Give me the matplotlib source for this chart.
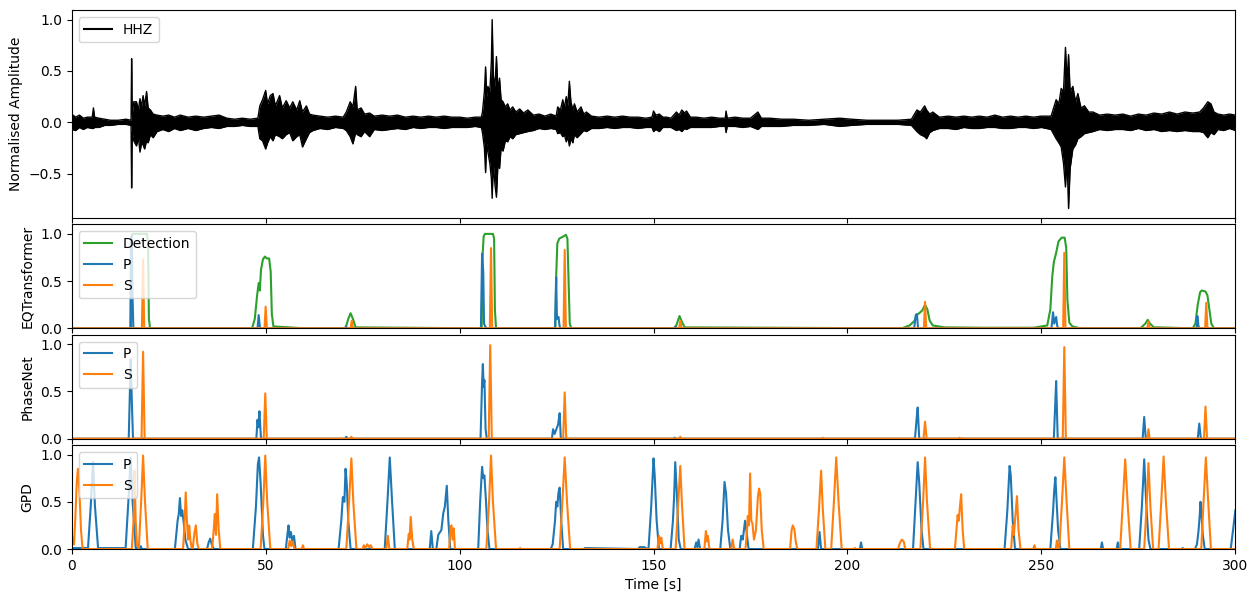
import numpy as np
import matplotlib
matplotlib.use("Agg")
import matplotlib.pyplot as plt

# HHZ trace: (time [s], upper, lower)
hhz = [
    (0.0, 0.08, -0.07), (1.0, 0.05, -0.08), (2.0, 0.07, -0.05), (3.0, 0.04, -0.07),
    (4.0, 0.05, -0.05), (5.3, 0.05, -0.06), (5.6, 0.14, -0.06), (5.9, 0.05, -0.05),
    (7.0, 0.04, -0.05), (8.5, 0.03, -0.03), (10.0, 0.02, -0.03), (12.0, 0.02, -0.02),
    (14.0, 0.03, -0.02), (15.3, 0.02, -0.03), (15.45, 0.62, -0.64), (15.6, 0.08, -0.10),
    (16.0, 0.20, -0.18), (16.7, 0.20, -0.23), (17.2, 0.12, -0.15), (17.6, 0.23, -0.29),
    (18.0, 0.15, -0.20), (18.4, 0.26, -0.22), (18.8, 0.16, -0.26), (19.3, 0.30, -0.18),
    (19.7, 0.14, -0.20), (20.3, 0.12, -0.12), (21.0, 0.08, -0.15), (22.0, 0.07, -0.09),
    (23.5, 0.06, -0.07), (25.0, 0.07, -0.09), (26.5, 0.05, -0.06), (28.0, 0.07, -0.08),
    (30.0, 0.05, -0.06), (32.0, 0.06, -0.08), (34.0, 0.05, -0.06), (36.0, 0.06, -0.05),
    (38.0, 0.07, -0.06), (40.0, 0.04, -0.04), (42.0, 0.03, -0.04), (44.0, 0.04, -0.03),
    (46.0, 0.03, -0.04), (48.0, 0.04, -0.04), (48.5, 0.16, -0.16), (49.2, 0.22, -0.18),
    (50.0, 0.31, -0.26), (50.5, 0.18, -0.20), (51.2, 0.26, -0.14), (51.9, 0.28, -0.18),
    (52.5, 0.16, -0.12), (53.6, 0.26, -0.14), (54.3, 0.14, -0.16), (55.3, 0.21, -0.12),
    (56.2, 0.14, -0.10), (57.0, 0.20, -0.18), (58.0, 0.12, -0.14), (58.8, 0.21, -0.12),
    (59.5, 0.10, -0.24), (60.5, 0.16, -0.16), (61.3, 0.08, -0.10), (62.2, 0.07, -0.08),
    (64.0, 0.06, -0.06), (66.0, 0.05, -0.07), (68.0, 0.06, -0.05), (70.0, 0.05, -0.06),
    (70.8, 0.10, -0.08), (71.8, 0.20, -0.14), (72.5, 0.15, -0.21), (73.2, 0.35, -0.10),
    (73.6, 0.12, -0.12), (74.6, 0.14, -0.14), (75.5, 0.08, -0.09), (76.8, 0.09, -0.14),
    (78.0, 0.06, -0.07), (80.0, 0.07, -0.08), (82.0, 0.06, -0.07), (84.0, 0.07, -0.06),
    (86.0, 0.05, -0.07), (88.0, 0.06, -0.05), (90.0, 0.05, -0.06), (92.0, 0.06, -0.05),
    (94.0, 0.05, -0.05), (96.0, 0.06, -0.06), (98.0, 0.05, -0.05), (100.0, 0.05, -0.05),
    (102.0, 0.04, -0.05), (104.0, 0.05, -0.04), (105.6, 0.05, -0.05), (105.9, 0.10, -0.10),
    (106.4, 0.30, -0.25), (106.7, 0.54, -0.49), (107.0, 0.25, -0.20), (107.3, 0.35, -0.29),
    (107.8, 0.30, -0.40), (108.2, 0.60, -0.55), (108.4, 1.00, -0.74), (108.7, 0.45, -0.40),
    (109.1, 0.35, -0.60), (109.5, 0.64, -0.73), (109.9, 0.30, -0.40), (110.3, 0.43, -0.45),
    (110.7, 0.22, -0.25), (111.2, 0.20, -0.28), (111.8, 0.15, -0.18), (112.4, 0.18, -0.19),
    (113.0, 0.12, -0.14), (113.7, 0.15, -0.16), (114.5, 0.10, -0.12), (115.5, 0.13, -0.11),
    (116.5, 0.09, -0.10), (117.6, 0.12, -0.09), (119.0, 0.07, -0.08), (120.5, 0.08, -0.06),
    (122.0, 0.06, -0.07), (123.5, 0.08, -0.06), (124.9, 0.06, -0.07), (125.3, 0.15, -0.11),
    (126.0, 0.12, -0.10), (126.6, 0.22, -0.14), (127.0, 0.14, -0.12), (127.5, 0.25, -0.19),
    (127.9, 0.16, -0.14), (128.3, 0.40, -0.23), (128.7, 0.20, -0.16), (129.2, 0.12, -0.20),
    (129.6, 0.18, -0.12), (130.3, 0.10, -0.15), (131.3, 0.15, -0.11), (132.0, 0.08, -0.08),
    (132.7, 0.10, -0.09), (134.0, 0.06, -0.06), (136.0, 0.05, -0.06), (138.0, 0.06, -0.05),
    (140.0, 0.05, -0.06), (142.0, 0.06, -0.05), (144.0, 0.05, -0.05), (146.0, 0.05, -0.06),
    (148.0, 0.04, -0.05), (149.6, 0.05, -0.05), (150.0, 0.11, -0.09), (150.6, 0.07, -0.07),
    (151.5, 0.08, -0.09), (152.4, 0.05, -0.05), (153.3, 0.05, -0.05), (154.5, 0.04, -0.05),
    (155.9, 0.10, -0.08), (156.6, 0.07, -0.07), (157.3, 0.12, -0.09), (158.0, 0.09, -0.06),
    (158.5, 0.11, -0.07), (159.5, 0.05, -0.05), (161.0, 0.05, -0.05), (163.0, 0.04, -0.05),
    (165.0, 0.05, -0.05), (167.0, 0.04, -0.04), (168.5, 0.04, -0.04), (168.7, 0.11, -0.10),
    (169.0, 0.04, -0.04), (171.0, 0.05, -0.04), (173.0, 0.04, -0.05), (175.0, 0.04, -0.04),
    (176.9, 0.10, -0.07), (177.8, 0.04, -0.04), (180.0, 0.04, -0.04), (183.0, 0.03, -0.04),
    (186.0, 0.03, -0.03), (190.0, 0.02, -0.03), (194.0, 0.03, -0.02), (198.0, 0.04, -0.04),
    (201.0, 0.03, -0.03), (205.0, 0.02, -0.02), (209.0, 0.02, -0.02), (213.0, 0.02, -0.02),
    (216.5, 0.03, -0.03), (217.9, 0.12, -0.09), (218.8, 0.10, -0.12), (219.9, 0.16, -0.14),
    (220.4, 0.12, -0.16), (221.2, 0.08, -0.10), (222.0, 0.10, -0.08), (223.7, 0.05, -0.06),
    (226.0, 0.06, -0.06), (228.0, 0.05, -0.07), (230.0, 0.06, -0.05), (232.0, 0.05, -0.06),
    (234.0, 0.06, -0.06), (236.0, 0.05, -0.05), (238.0, 0.07, -0.05), (240.0, 0.05, -0.06),
    (242.0, 0.06, -0.06), (244.0, 0.05, -0.05), (246.0, 0.06, -0.05), (248.0, 0.05, -0.06),
    (250.0, 0.06, -0.05), (252.5, 0.06, -0.07), (253.8, 0.22, -0.16), (254.5, 0.18, -0.20),
    (255.1, 0.33, -0.24), (255.7, 0.30, -0.40), (256.2, 0.73, -0.63), (256.6, 0.40, -0.35),
    (257.0, 0.66, -0.84), (257.4, 0.30, -0.45), (258.1, 0.35, -0.26), (258.8, 0.20, -0.22),
    (259.4, 0.28, -0.16), (260.2, 0.14, -0.14), (261.1, 0.16, -0.11), (262.2, 0.10, -0.10),
    (263.3, 0.10, -0.09), (265.0, 0.07, -0.07), (267.0, 0.08, -0.08), (269.0, 0.07, -0.07),
    (271.0, 0.08, -0.07), (273.0, 0.06, -0.08), (275.0, 0.08, -0.06), (277.0, 0.07, -0.08),
    (279.0, 0.09, -0.07), (281.0, 0.08, -0.09), (283.0, 0.10, -0.08), (285.0, 0.08, -0.09),
    (287.0, 0.10, -0.08), (289.0, 0.09, -0.09), (290.8, 0.10, -0.09), (291.8, 0.14, -0.10),
    (292.9, 0.20, -0.15), (293.7, 0.18, -0.10), (294.5, 0.10, -0.12), (295.5, 0.08, -0.07),
    (297.0, 0.07, -0.08), (298.5, 0.08, -0.06), (300.0, 0.07, -0.08),
]

# EQTransformer probabilities: (time, value)
eqt_det = [
    (0, 0), (15.3, 0), (15.5, 0.99), (15.7, 1.0), (19.4, 1.0), (19.7, 0.9), (19.9, 0.1), (20.2, 0),
    (46.5, 0), (47.2, 0.1), (47.8, 0.35), (48.2, 0.48), (48.5, 0.40), (48.8, 0.62), (49.3, 0.73),
    (49.8, 0.76), (50.3, 0.74), (50.9, 0.74), (51.3, 0.6), (51.6, 0.15), (52, 0.02), (56, 0.01), (60, 0),
    (70.6, 0), (71.3, 0.1), (71.9, 0.16), (72.5, 0.1), (73.2, 0.01),
    (105.7, 0), (105.9, 0.75), (106.2, 0.97), (106.5, 1.0), (108.6, 1.0), (108.9, 0.95), (109.1, 0.2), (109.4, 0),
    (124.7, 0), (124.9, 0.55), (125.2, 0.9), (125.7, 0.95), (126.6, 0.97), (127.4, 0.99), (127.8, 0.95),
    (128.1, 0.5), (128.4, 0.05), (128.8, 0),
    (155.6, 0), (156.2, 0.07), (156.7, 0.13), (157.3, 0.07), (158, 0.01),
    (214, 0), (216, 0.03), (217.3, 0.08), (217.8, 0.14), (218.5, 0.16), (219.3, 0.19), (220, 0.25),
    (220.6, 0.2), (221.2, 0.08), (222, 0.03), (225, 0.01), (235, 0.006), (248, 0.006), (251.5, 0.03),
    (252.3, 0.2), (252.8, 0.55), (253.2, 0.7), (253.8, 0.8), (254.4, 0.92), (255.2, 0.96), (256.0, 0.96),
    (256.4, 0.85), (256.7, 0.3), (257.2, 0.06), (258, 0.02), (260, 0),
    (275.5, 0), (276.8, 0.05), (277.4, 0.09), (278.0, 0.05), (279, 0.01), (280, 0.01),
    (289, 0), (289.7, 0.05), (290.3, 0.25), (290.9, 0.38), (291.3, 0.40), (292.3, 0.39), (292.8, 0.35),
    (293.3, 0.2), (293.8, 0.05), (294.5, 0), (300, 0),
]
eqt_p = [
    (0, 0), (15.1, 0), (15.3, 0.95), (15.5, 0.98), (15.7, 0.3), (15.9, 0),
    (47.9, 0), (48.2, 0.14), (48.5, 0.02), (48.7, 0),
    (70.4, 0), (70.7, 0.02), (71, 0),
    (105.5, 0), (105.8, 0.79), (106.1, 0.6), (106.3, 0.05), (106.6, 0.02), (107, 0),
    (124.6, 0), (124.9, 0.54), (125.1, 0.1), (125.5, 0.12), (125.8, 0.02), (126, 0),
    (155.3, 0), (155.6, 0.02), (155.9, 0),
    (217.2, 0), (217.6, 0.14), (217.9, 0.15), (218.2, 0),
    (252.6, 0), (253, 0.17), (253.3, 0.05), (253.8, 0.12), (254.1, 0.02), (254.4, 0),
    (290, 0), (290.2, 0.13), (290.5, 0.02), (290.8, 0), (300, 0),
]
eqt_s = [
    (0, 0), (18.1, 0), (18.4, 0.73), (18.7, 0),
    (49.7, 0), (50.0, 0.23), (50.3, 0),
    (71.9, 0), (72.2, 0.08), (72.5, 0),
    (107.8, 0), (108.1, 0.85), (108.4, 0),
    (126.8, 0), (127.1, 0.83), (127.4, 0),
    (156.6, 0), (156.9, 0.08), (157.2, 0),
    (219.7, 0), (220.0, 0.28), (220.3, 0),
    (255.6, 0), (255.9, 0.80), (256.2, 0),
    (277.3, 0), (277.6, 0.07), (277.9, 0),
    (292.2, 0), (292.5, 0.27), (292.8, 0), (300, 0),
]

# PhaseNet probabilities
pn_p = [
    (0, 0), (14.7, 0), (15.0, 0.5), (15.2, 0.84), (15.5, 0.4), (15.8, 0),
    (47.6, 0), (47.9, 0.2), (48.1, 0.12), (48.4, 0.29), (48.8, 0),
    (70.5, 0), (70.8, 0.02), (71.1, 0),
    (105.4, 0), (105.8, 0.6), (106.0, 0.79), (106.2, 0.55), (106.4, 0.62), (106.7, 0.1), (107, 0),
    (123.8, 0), (124.1, 0.1), (124.5, 0.05), (125.4, 0.15), (125.8, 0.27), (126.1, 0),
    (155.2, 0), (155.4, 0.01), (155.7, 0),
    (217.4, 0), (217.8, 0.2), (218.1, 0.33), (218.5, 0),
    (253.2, 0), (253.5, 0.3), (253.8, 0.61), (254.2, 0),
    (276.1, 0), (276.5, 0.23), (276.9, 0),
    (290.3, 0), (290.7, 0.16), (291.1, 0), (300, 0),
]
pn_s = [
    (0, 0), (18.0, 0), (18.4, 0.92), (18.8, 0),
    (49.5, 0), (49.9, 0.48), (50.3, 0),
    (71.8, 0), (72.1, 0.02), (72.4, 0),
    (107.5, 0), (107.9, 0.99), (108.3, 0),
    (126.7, 0), (127.1, 0.49), (127.5, 0),
    (156.6, 0), (156.9, 0.02), (157.2, 0),
    (193.3, 0), (193.6, 0.01), (193.9, 0),
    (219.6, 0), (220.0, 0.18), (220.4, 0),
    (228.6, 0), (228.9, 0.01), (229.2, 0),
    (255.5, 0), (255.9, 0.97), (256.3, 0),
    (277.3, 0), (277.6, 0.10), (277.9, 0),
    (291.9, 0), (292.3, 0.34), (292.7, 0), (300, 0),
]

# GPD probabilities
gpd_p = [
    (0, 0.01), (4.2, 0.01), (4.9, 0.45), (5.5, 0.92), (6.0, 0.45), (6.8, 0.01),
    (13.9, 0.01), (14.6, 0.5), (15.2, 0.97), (15.7, 0.5), (16.5, 0.01),
    (17.5, 0.01), (17.8, 0.03), (18.1, 0),
    (26.6, 0), (27.3, 0.3), (27.6, 0.37), (27.9, 0.54), (28.2, 0.35), (28.5, 0.41), (28.9, 0.27),
    (29.3, 0.1), (30, 0),
    (34.9, 0), (35.3, 0.07), (35.7, 0.11), (36.1, 0.05), (36.6, 0),
    (46.7, 0), (47.5, 0.45), (48.0, 0.9), (48.3, 0.97), (48.7, 0.7), (49.3, 0.15), (49.7, 0),
    (55.2, 0), (55.6, 0.15), (55.9, 0.25), (56.2, 0.12), (56.5, 0.18), (56.9, 0.08), (57.3, 0.14), (57.7, 0),
    (68.8, 0), (69.5, 0.3), (69.9, 0.55), (70.3, 0.5), (70.6, 0.85), (70.9, 0.70), (71.3, 0.3), (71.9, 0),
    (80.7, 0), (81.4, 0.5), (82.0, 0.97), (82.6, 0.5), (83.3, 0),
    (92.3, 0), (92.7, 0.19), (93.1, 0),
    (94, 0), (94.5, 0.15), (95.3, 0.2), (95.8, 0.38), (96.2, 0.45), (96.7, 0.67), (97.1, 0.3), (97.6, 0),
    (104.8, 0), (105.3, 0.5), (105.8, 0.87), (106.1, 0.75), (106.4, 0.78), (106.8, 0.51), (107.2, 0.2), (107.7, 0),
    (123.5, 0), (124.0, 0.05), (124.6, 0.3), (124.9, 0.5), (125.2, 0.45), (125.5, 0.6), (125.8, 0.65),
    (126.2, 0.3), (126.7, 0),
    (132.0, 0), (132.3, 0.01), (146.0, 0), (146.4, 0.02), (147.7, 0.02), (148.0, 0.01),
    (148.7, 0), (149.4, 0.45), (150.0, 0.96), (150.3, 0.78), (150.8, 0.3), (151.4, 0),
    (154.4, 0), (155.0, 0.3), (155.3, 0.55), (155.6, 0.92), (156.0, 0.6), (156.5, 0.1), (157, 0),
    (160.6, 0), (161.0, 0.07), (161.3, 0.02), (161.6, 0.1), (162.0, 0),
    (167.2, 0), (167.8, 0.3), (168.3, 0.71), (168.7, 0.59), (169.2, 0.2), (169.8, 0),
    (172.2, 0), (172.6, 0.14), (173.0, 0.1), (173.6, 0.30), (174.0, 0.18), (174.5, 0),
    (192.4, 0), (192.8, 0.18), (193.2, 0),
    (203.2, 0), (203.5, 0.07), (203.8, 0),
    (216.9, 0), (217.5, 0.45), (218.1, 0.92), (218.5, 0.7), (219.1, 0.2), (219.6, 0),
    (240.5, 0), (241.2, 0.4), (241.5, 0.65), (241.8, 0.88), (242.1, 0.78), (242.6, 0.3), (243.2, 0),
    (252.3, 0), (253.0, 0.4), (253.3, 0.62), (253.6, 0.76), (253.9, 0.51), (254.3, 0.2), (254.9, 0),
    (265.3, 0), (265.6, 0.07), (265.9, 0),
    (269.4, 0), (269.7, 0.07), (270.0, 0),
    (275.2, 0), (275.9, 0.45), (276.5, 0.95), (277.0, 0.5), (277.6, 0.1), (278.1, 0),
    (286.1, 0), (286.4, 0.01), (286.7, 0),
    (289.6, 0), (290.1, 0.05), (290.5, 0.19), (290.8, 0.35), (291.0, 0.50), (291.2, 0.41), (291.6, 0.15), (292.1, 0),
    (298.8, 0), (299.4, 0.2), (300, 0.41),
]
gpd_s = [
    (0, 0.1), (0.3, 0.12), (0.6, 0.05), (0.9, 0.3), (1.3, 0.7), (1.6, 0.85), (2.0, 0.6), (2.4, 0.2), (2.8, 0),
    (15.5, 0), (15.8, 0.2), (16.0, 0.34), (16.2, 0.83), (16.5, 0.3), (16.8, 0.05),
    (17.3, 0), (17.9, 0.5), (18.4, 0.99), (18.9, 0.5), (19.6, 0),
    (28.7, 0), (29.0, 0.2), (29.4, 0.60), (29.7, 0.3), (30.0, 0.1), (30.3, 0.25), (30.6, 0.09), (31, 0),
    (31.2, 0), (31.6, 0.16), (32.0, 0.25), (32.4, 0.05), (32.8, 0),
    (36.2, 0), (36.6, 0.2), (36.9, 0.37), (37.2, 0.15), (37.5, 0.58), (37.9, 0.2), (38.3, 0),
    (48.7, 0), (49.4, 0.5), (49.9, 0.99), (50.4, 0.5), (51.2, 0),
    (55.8, 0), (56.2, 0.09), (56.6, 0.03), (57.0, 0.08), (57.4, 0),
    (59.3, 0), (59.6, 0.04), (59.9, 0),
    (70.8, 0), (71.5, 0.5), (72.1, 0.96), (72.6, 0.5), (73.4, 0),
    (75.0, 0), (75.3, 0.04), (75.7, 0.01), (76.2, 0.05), (76.7, 0.02), (77.1, 0.04), (77.5, 0),
    (81.1, 0), (81.5, 0.14), (81.9, 0),
    (86.5, 0), (86.9, 0.16), (87.1, 0.1), (87.4, 0.34), (87.8, 0.1), (88.2, 0),
    (97.3, 0), (97.7, 0.23), (97.9, 0.25), (98.2, 0.1), (98.5, 0.22), (98.8, 0),
    (106.9, 0), (107.6, 0.5), (108.1, 0.99), (108.6, 0.5), (109.4, 0),
    (115.3, 0), (115.6, 0.01), (115.9, 0),
    (125.8, 0), (126.5, 0.5), (127.1, 0.97), (127.7, 0.5), (128.5, 0),
    (151.0, 0), (151.4, 0.14), (151.7, 0.06), (152.0, 0.12), (152.4, 0),
    (155.7, 0), (156.3, 0.45), (156.9, 0.88), (157.3, 0.5), (158.0, 0),
    (163.1, 0), (163.5, 0.19), (163.8, 0.08), (164.0, 0.14), (164.4, 0),
    (170.0, 0), (170.4, 0.10), (170.8, 0),
    (173.7, 0), (174.1, 0.2), (174.3, 0.35), (174.6, 0.25), (174.9, 0.80), (175.2, 0.3), (175.5, 0.27),
    (175.9, 0.1), (176.4, 0.2), (176.9, 0.55), (177.2, 0.64), (177.5, 0.59), (177.9, 0.2), (178.4, 0),
    (185.2, 0), (185.6, 0.2), (185.9, 0.25), (186.3, 0.21), (186.7, 0.07), (187.1, 0),
    (192.0, 0), (192.7, 0.45), (193.2, 0.83), (193.6, 0.45), (194.3, 0),
    (195.8, 0), (196.5, 0.5), (197.1, 0.97), (197.7, 0.5), (198.5, 0),
    (201.6, 0), (201.9, 0.01), (202.2, 0),
    (213, 0), (213.5, 0.06), (214.0, 0.10), (214.5, 0.08), (214.9, 0),
    (218.8, 0), (219.5, 0.5), (220.0, 0.97), (220.5, 0.5), (221.3, 0),
    (227.7, 0), (228.1, 0.2), (228.4, 0.36), (228.7, 0.3), (229.0, 0.45), (229.3, 0.58), (229.7, 0.2), (230.1, 0),
    (242.2, 0), (242.6, 0.25), (242.9, 0.15), (243.3, 0.35), (243.7, 0.56), (244.1, 0.2), (244.6, 0),
    (247.9, 0), (248.2, 0.04), (248.5, 0),
    (253.7, 0), (254.0, 0.09), (254.3, 0),
    (254.6, 0), (255.3, 0.5), (255.9, 0.97), (256.5, 0.5), (257.2, 0),
    (270.3, 0), (271.0, 0.5), (271.6, 0.95), (272.2, 0.5), (273.0, 0),
    (276.5, 0), (277.1, 0.45), (277.6, 0.91), (278.1, 0.45), (278.8, 0),
    (280.2, 0), (280.9, 0.5), (281.5, 0.98), (282.1, 0.5), (282.9, 0),
    (291.2, 0), (291.8, 0.5), (292.4, 0.97), (293.0, 0.5), (293.7, 0), (300, 0),
]


def xy(pairs):
    arr = np.array(pairs, dtype=float)
    return arr[:, 0], arr[:, 1]


fig, axs = plt.subplots(4, 1, sharex=True, figsize=(12.58, 6.02), dpi=100,
                        gridspec_kw=dict(height_ratios=[2, 1, 1, 1], hspace=0.05))
fig.subplots_adjust(left=0.057, right=0.982, top=0.983, bottom=0.088)

# waveform
w = np.array(hhz)
ax = axs[0]
ax.fill_between(w[:, 0], w[:, 2], w[:, 1], color="k", lw=0)
ax.plot(w[:, 0], w[:, 1], "k", lw=1.0, label="HHZ")
ax.plot(w[:, 0], w[:, 2], "k", lw=1.0)
ax.set_ylabel("Normalised Amplitude")
leg = ax.legend(loc="upper left")
for line in leg.get_lines():
    line.set_linewidth(1.5)

# EQTransformer
ax = axs[1]
ax.plot(*xy(eqt_det), color="C2", label="Detection")
ax.plot(*xy(eqt_p), color="C0", label="P")
ax.plot(*xy(eqt_s), color="C1", label="S")
ax.set_ylabel("EQTransformer")

# PhaseNet
ax = axs[2]
ax.plot(*xy(pn_p), color="C0", label="P")
ax.plot(*xy(pn_s), color="C1", label="S")
ax.set_ylabel("PhaseNet")

# GPD
ax = axs[3]
ax.plot(*xy(gpd_p), color="C0", label="P")
ax.plot(*xy(gpd_s), color="C1", label="S")
ax.set_ylabel("GPD")

for ax in axs[1:]:
    ax.set_ylim(0, 1.1)
    ax.set_yticks([0, 0.5, 1.0])
    ax.legend(loc="upper left")

axs[-1].set_xlim(0, 300)
axs[-1].set_xlabel("Time [s]")

plt.savefig("out.png")
